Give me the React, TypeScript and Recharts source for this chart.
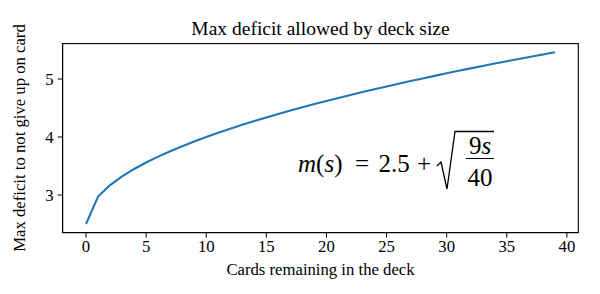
import { LineChart, Line, XAxis, YAxis } from 'recharts';

const cardsRemaining = [
  0, 1, 2, 3, 4, 5, 6, 7, 8, 9, 10, 11, 12, 13, 14, 15, 16, 17, 18, 19,
  20, 21, 22, 23, 24, 25, 26, 27, 28, 29, 30, 31, 32, 33, 34, 35, 36, 37, 38, 39,
];
const maxDeficit = [
  2.5, 2.974, 3.171, 3.322, 3.449, 3.561, 3.662, 3.755, 3.842, 3.923,
  4.0, 4.073, 4.143, 4.21, 4.275, 4.337, 4.397, 4.456, 4.512, 4.568,
  4.621, 4.674, 4.725, 4.775, 4.824, 4.872, 4.919, 4.965, 5.01, 5.054,
  5.098, 5.141, 5.183, 5.225, 5.266, 5.306, 5.346, 5.385, 5.424, 5.462,
];
const xTicks = [0, 5, 10, 15, 20, 25, 30, 35, 40];
const yTicks = [3, 4, 5];

const data = cardsRemaining.map((s, i) => ({ s, m: maxDeficit[i] }));

const serif = "'Liberation Serif', 'Times New Roman', serif";
const tickStyle = { fontSize: 16.7, fill: '#000', fontFamily: serif };
const txt = (size: number, extra: object = {}) => ({ fontFamily: serif, fontSize: size, fill: '#000', ...extra });

// plot box (matches the axes below)
const PL = 62.6, PT = 43.6, PW = 515.7, PH = 189;

export default function App() {
  return (
    <div style={{ position: 'absolute', left: 0, top: 0, width: 600, height: 294, background: '#fff' }}>
      <LineChart
        width={600}
        height={294}
        data={data}
        margin={{ top: PT, right: 600 - PL - PW, bottom: 294 - PT - PH - 30, left: PL - 50 }}
      >
        <XAxis
          dataKey="s"
          type="number"
          domain={[-1.95, 40.95]}
          ticks={xTicks}
          height={30}
          tick={tickStyle}
          tickSize={5}
          tickMargin={3}
          stroke="#000"
          allowDataOverflow
        />
        <YAxis
          type="number"
          domain={[2.3519, 5.6104]}
          ticks={yTicks}
          width={50}
          tick={tickStyle}
          tickSize={5}
          tickMargin={4}
          stroke="#000"
          allowDataOverflow
        />
        <Line
          type="linear"
          dataKey="m"
          stroke="#1f77b4"
          strokeWidth={2.1}
          dot={false}
          isAnimationActive={false}
        />
      </LineChart>
      <svg width={600} height={294} style={{ position: 'absolute', left: 0, top: 0, pointerEvents: 'none' }}>
        <rect x={PL} y={PT} width={PW} height={PH} fill="none" stroke="#000" strokeWidth={1.1} />
        <text x={320.5} y={35} textAnchor="middle" style={txt(19.5)}>Max deficit allowed by deck size</text>
        <text x={320.5} y={275} textAnchor="middle" style={txt(16.7)}>Cards remaining in the deck</text>
        <text x={25} y={138} textAnchor="middle" style={txt(16.7)} transform="rotate(-90, 25, 138)">
          Max deficit to not give up on card
        </text>
        {/* formula annotation */}
        <text x={298} y={172} style={txt(25)}>
          <tspan fontStyle="italic">m</tspan>(<tspan fontStyle="italic">s</tspan>)
        </text>
        <text x={362} y={172} textAnchor="middle" style={txt(25)}>=</text>
        <text x={394} y={172} textAnchor="middle" style={txt(25)}>2.5</text>
        <text x={424} y={172} textAnchor="middle" style={txt(25)}>+</text>
        <path d="M437,166 L441,162 L447,189 L455,131.5 L494,131.5" fill="none" stroke="#000" strokeWidth={1.3} />
        <text x={480} y={154} textAnchor="middle" style={txt(25)}>
          9<tspan fontStyle="italic">s</tspan>
        </text>
        <line x1={466} x2={494} y1={158.5} y2={158.5} stroke="#000" strokeWidth={1} />
        <text x={480} y={186} textAnchor="middle" style={txt(25)}>40</text>
      </svg>
    </div>
  );
}
